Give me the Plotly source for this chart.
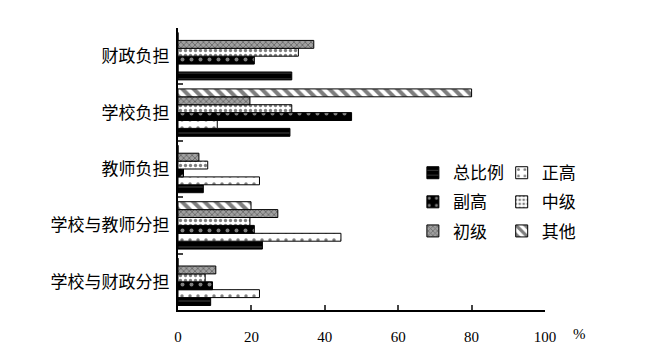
import plotly.graph_objects as go

categories = ["财政负担", "学校负担", "教师负担", "学校与教师分担", "学校与财政分担"]
series_names = ["总比例", "正高", "副高", "中级", "初级", "其他"]
v_total = [31.0, 30.5, 6.9, 23.0, 8.9]
v_zhenggao = [0.0, 10.7, 22.2, 44.4, 22.2]
v_fugao = [20.8, 47.3, 1.5, 20.8, 9.4]
v_zhongji = [32.8, 31.0, 8.1, 19.6, 7.4]
v_chuji = [37.0, 19.6, 5.7, 27.2, 10.3]
v_qita = [0.0, 80.0, 0.0, 19.9, 0.0]
x_ticks = [0, 20, 40, 60, 80, 100]

values = [v_total, v_zhenggao, v_fugao, v_zhongji, v_chuji, v_qita]
patterns = [
    dict(shape="-", fgcolor="#9a9a9a", bgcolor="black", size=6, solidity=0.15),
    dict(shape=".", fgcolor="black", bgcolor="white", size=8, solidity=0.15),
    dict(shape=".", fgcolor="white", bgcolor="black", size=9, solidity=0.15),
    dict(shape=".", fgcolor="black", bgcolor="white", size=5, solidity=0.35),
    dict(shape="x", fgcolor="#333333", bgcolor="#a0a0a0", size=4, solidity=0.4),
    dict(shape="\\", fgcolor="black", bgcolor="white", size=8, solidity=0.5),
]
legends = ["legend", "legend2", "legend", "legend2", "legend", "legend2"]

fig = go.Figure()
for name, vals, pat, lg in zip(series_names, values, patterns, legends):
    fig.add_trace(go.Bar(
        y=categories, x=vals, name=name, orientation="h",
        marker=dict(color=pat["bgcolor"], pattern=pat, line=dict(color="black", width=1)),
        legend=lg, legendgroup=name,
    ))

font_main = "'Liberation Serif', 'Noto Sans CJK SC'"
fig.update_layout(
    width=645, height=363,
    margin=dict(l=170, r=108, t=20, b=61, autoexpand=False),
    paper_bgcolor="white", plot_bgcolor="white",
    barmode="group", bargap=0.16, bargroupgap=0.0,
    font=dict(family=font_main, size=15, color="black"),
    legend=dict(x=0.64, y=0.549, xanchor="left", yanchor="top", tracegroupgap=4,
                font=dict(size=17), itemwidth=30, bgcolor="rgba(0,0,0,0)"),
    legend2=dict(x=0.882, y=0.549, xanchor="left", yanchor="top", tracegroupgap=4,
                 font=dict(size=17), itemwidth=30, bgcolor="rgba(0,0,0,0)"),
    xaxis=dict(range=[0, 100], tickvals=x_ticks, ticks="inside", ticklen=5,
               tickwidth=1.5, showline=True, linewidth=2, linecolor="black",
               showgrid=False, zeroline=False, ticklabelstandoff=12,
               tickfont=dict(size=15), automargin=False),
    yaxis=dict(categoryorder="array", categoryarray=categories[::-1],
               ticks="inside", tickson="boundaries", ticklen=5, tickwidth=1.5,
               showline=True, linewidth=2, linecolor="black", showgrid=False,
               ticklabelstandoff=3, tickfont=dict(size=17), automargin=False),
    annotations=[dict(text="%", x=1.0, y=0, xref="paper", yref="paper",
                      xanchor="left", yanchor="top", xshift=26, yshift=-14,
                      showarrow=False, font=dict(size=15))],
)
fig.write_html("out.html")
